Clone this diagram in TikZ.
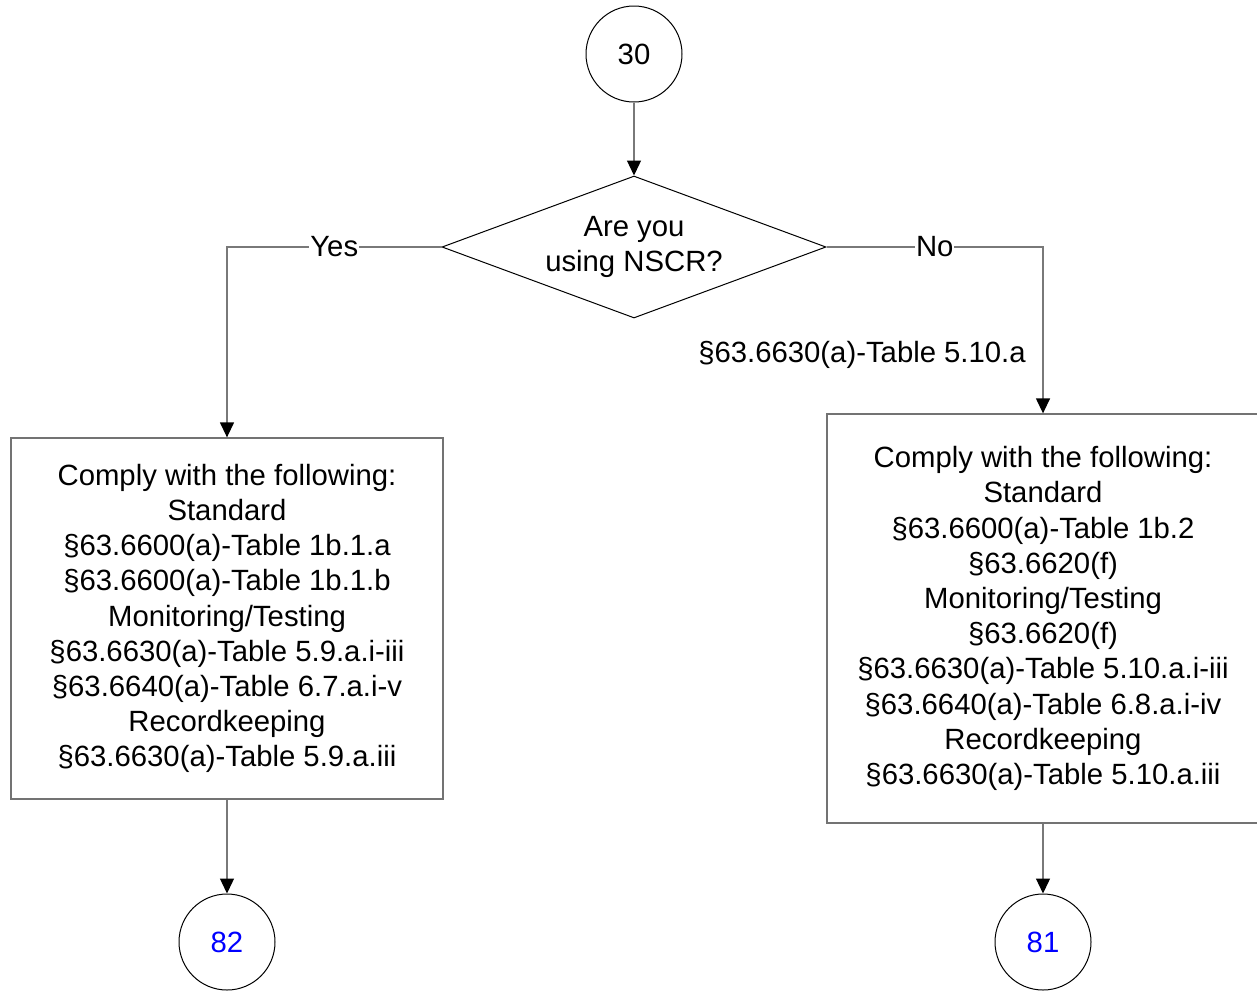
\documentclass[tikz,border=0pt]{standalone}
\usepackage{fontspec}
\setmainfont{Liberation Sans}
\usetikzlibrary{shapes.geometric,arrows.meta}
\begin{document}
\begin{tikzpicture}[x=1pt,y=-1pt,
  every node/.style={font=\fontsize{29.3}{35.2}\selectfont},
  conn/.style={draw=gray!95!black,line width=1.3pt,-{Triangle[length=15pt,width=14pt,black]}},
  term/.style={circle,draw=black,line width=1pt,minimum size=96pt,inner sep=0pt},
  box/.style={rectangle,draw=gray!90!black,line width=1.3pt,align=center,inner sep=0pt},
  dec/.style={diamond,draw=black,line width=1pt,align=center,inner sep=0pt,aspect=2.7,minimum width=384pt,minimum height=142pt},
  lab/.style={fill=white,inner sep=1pt}]
\useasboundingbox (0,0) rectangle (1257,991);
\node[term] (c30) at (634,54) {30};
\node[dec] (dia) at (634,247) {Are you\\using NSCR?};
\node[box,minimum width=432pt,minimum height=361pt] (lbox) at (227,618.5) {Comply with the following:\\Standard\\§63.6600(a)-Table 1b.1.a\\§63.6600(a)-Table 1b.1.b\\Monitoring/Testing\\§63.6630(a)-Table 5.9.a.i-iii\\§63.6640(a)-Table 6.7.a.i-v\\Recordkeeping\\§63.6630(a)-Table 5.9.a.iii};
\node[box,minimum width=432pt,minimum height=409pt] (rbox) at (1043,618.5) {Comply with the following:\\Standard\\§63.6600(a)-Table 1b.2\\§63.6620(f)\\Monitoring/Testing\\§63.6620(f)\\§63.6630(a)-Table 5.10.a.i-iii\\§63.6640(a)-Table 6.8.a.i-iv\\Recordkeeping\\§63.6630(a)-Table 5.10.a.iii};
\node (ref) at (862,355) {§63.6630(a)-Table 5.10.a};
\node[term,text=blue] (c82) at (227,942) {82};
\node[term,text=blue] (c81) at (1043,942) {81};
\draw[conn] (c30) -- (dia);
\draw[conn] (dia.west) -| node[pos=0.25,lab]{Yes} (lbox.north);
\draw[conn] (dia.east) -| node[pos=0.25,lab]{No} (rbox.north);
\draw[conn] (lbox) -- (c82);
\draw[conn] (rbox) -- (c81);
\end{tikzpicture}
\end{document}
